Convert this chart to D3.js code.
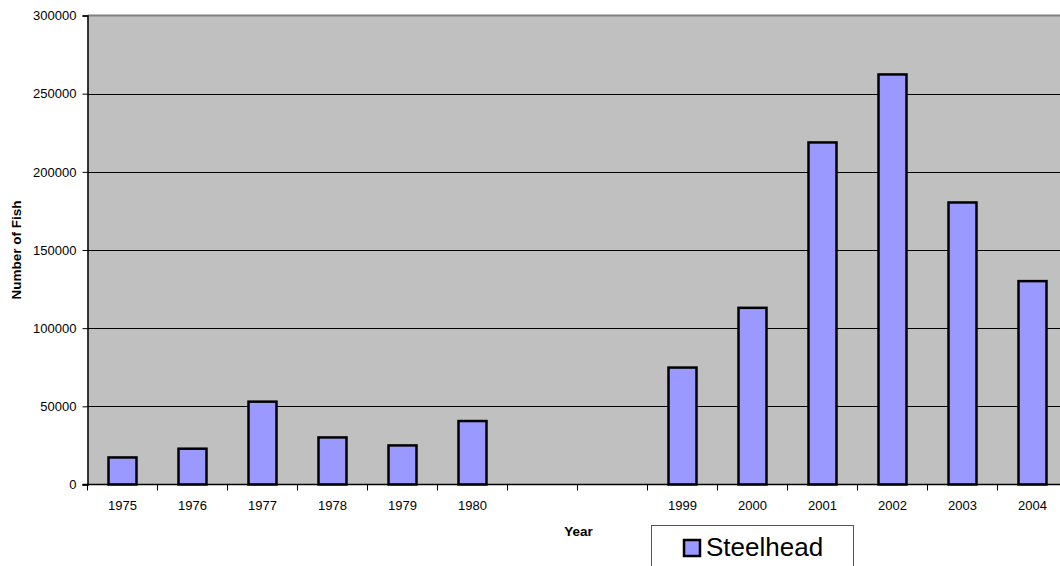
<!DOCTYPE html>
<html>
<head>
<meta charset="utf-8">
<script src="https://cdn.jsdelivr.net/npm/d3@7"></script>
<style>
  body { margin: 0; background: #fff; }
  svg { display: block; font-family: "Liberation Sans", Arial, sans-serif; }
</style>
</head>
<body>
<svg id="chart" width="1060" height="566"></svg>
<script>
// Steelhead counts by year; the two blank slots separate the 1970s and 2000s runs
const years = ["1975", "1976", "1977", "1978", "1979", "1980", "", "", "1999", "2000", "2001", "2002", "2003", "2004"];
const steelhead = [17300, 22900, 53000, 30100, 25000, 40600, null, null, 74800, 113000, 218800, 262300, 180400, 130100];
const yTicks = [0, 50000, 100000, 150000, 200000, 250000, 300000];

const svg = d3.select("#chart");
const plotLeft = 87.5, plotTop = 15.5, plotBottom = 484.5;
const band = 70;
const plotRight = plotLeft + band * years.length;

const x = d3.scaleBand()
  .domain(d3.range(years.length))
  .range([plotLeft, plotRight])
  .paddingInner(0.6)
  .paddingOuter(0.3);

const y = d3.scaleLinear().domain([0, 300000]).range([plotBottom, plotTop]);

// plot background
svg.append("rect")
  .attr("x", plotLeft).attr("y", plotTop)
  .attr("width", plotRight - plotLeft).attr("height", plotBottom - plotTop)
  .attr("fill", "#c0c0c0");

// top border of plot area
svg.append("line")
  .attr("x1", plotLeft).attr("x2", plotRight)
  .attr("y1", plotTop).attr("y2", plotTop)
  .attr("stroke", "#808080").attr("stroke-width", 2);

// horizontal gridlines
svg.append("g")
  .selectAll("line")
  .data(yTicks.filter(t => t > 0 && t < 300000))
  .join("line")
  .attr("x1", plotLeft).attr("x2", plotRight)
  .attr("y1", d => Math.round(y(d)) + 0.5).attr("y2", d => Math.round(y(d)) + 0.5)
  .attr("stroke", "#000").attr("stroke-width", 1);

// bars
svg.append("g")
  .selectAll("rect")
  .data(steelhead.map((v, i) => ({ v, i })).filter(d => d.v != null))
  .join("rect")
  .attr("x", d => x(d.i))
  .attr("width", x.bandwidth())
  .attr("y", d => y(d.v))
  .attr("height", d => y(0) - y(d.v))
  .attr("fill", "#9999ff")
  .attr("stroke", "#000")
  .attr("stroke-width", 2.5);

// y axis
const yAxis = svg.append("g")
  .attr("transform", `translate(${plotLeft},0)`)
  .call(d3.axisLeft(y).tickValues(yTicks).tickFormat(d3.format("d")).tickSize(5).tickPadding(6));
yAxis.select(".domain").attr("stroke", "#000").attr("stroke-width", 1.5);
yAxis.selectAll(".tick line").attr("stroke", "#000");
yAxis.selectAll("text").attr("font-size", 13).attr("fill", "#000")
  .attr("font-family", "'Liberation Sans', Arial, sans-serif");

// x axis with ticks on category boundaries
const xAxis = svg.append("g").attr("transform", `translate(0,${plotBottom})`);
xAxis.append("line")
  .attr("x1", plotLeft - 5).attr("x2", plotRight)
  .attr("stroke", "#000").attr("stroke-width", 1.5);
xAxis.selectAll(".bound")
  .data(d3.range(years.length + 1))
  .join("line")
  .attr("class", "bound")
  .attr("x1", i => plotLeft + i * band).attr("x2", i => plotLeft + i * band)
  .attr("y1", 0).attr("y2", 6)
  .attr("stroke", "#000");
xAxis.selectAll(".lbl")
  .data(years.map((t, i) => ({ t, i })))
  .join("text")
  .attr("class", "lbl")
  .attr("x", d => x(d.i) + x.bandwidth() / 2)
  .attr("y", 25.5)
  .attr("text-anchor", "middle")
  .attr("font-size", 13)
  .text(d => d.t);

// axis titles
svg.append("text")
  .attr("transform", "translate(20.5,250) rotate(-90)")
  .attr("text-anchor", "middle")
  .attr("font-size", 13.5).attr("font-weight", "bold")
  .text("Number of Fish");

svg.append("text")
  .attr("x", 578.5).attr("y", 535.5)
  .attr("text-anchor", "middle")
  .attr("font-size", 13.5).attr("font-weight", "bold")
  .text("Year");

// legend
const legend = svg.append("g");
legend.append("rect")
  .attr("x", 651.5).attr("y", 525.5)
  .attr("width", 202).attr("height", 60)
  .attr("fill", "#fff").attr("stroke", "#555").attr("stroke-width", 1);
legend.append("rect")
  .attr("x", 684).attr("y", 540)
  .attr("width", 16).attr("height", 16)
  .attr("fill", "#9999ff").attr("stroke", "#000").attr("stroke-width", 2.5);
legend.append("text")
  .attr("x", 706).attr("y", 556)
  .attr("font-size", 26)
  .text("Steelhead");
</script>
</body>
</html>
